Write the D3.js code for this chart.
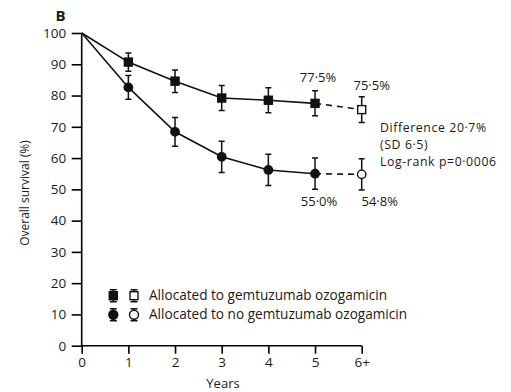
<!DOCTYPE html>
<html>
<head>
<meta charset="utf-8">
<script src="https://cdn.jsdelivr.net/npm/d3@7"></script>
<style>
  html, body { margin: 0; padding: 0; background: #fff; }
  svg { display: block; font-family: "Open Sans", "DejaVu Sans", sans-serif; }
</style>
</head>
<body>
<svg id="chart" width="511" height="392"></svg>
<script>
// Overall survival by allocation, with ±SD bars at each year
const years = ["0", "1", "2", "3", "4", "5", "6+"];
const gemSurvival = [100, 90.7, 84.6, 79.2, 78.5, 77.5, 75.5];
const gemErr = [0, 2.9, 3.6, 4.0, 4.0, 4.0, 4.1];
const noGemSurvival = [100, 82.6, 68.4, 60.4, 56.2, 55.0, 54.8];
const noGemErr = [0, 3.8, 4.6, 5.0, 5.0, 5.0, 5.0];
const yTicks = [0, 10, 20, 30, 40, 50, 60, 70, 80, 90, 100];
const legendLabels = ["Allocated to gemtuzumab ozogamicin", "Allocated to no gemtuzumab ozogamicin"];
const noteLines = ["Difference 20·7%", "(SD 6·5)", "Log-rank p=0·0006"];

const FONT = "\"Open Sans\", sans-serif";
const INK = "#1a1a1a";
const svg = d3.select("#chart");
const x = d3.scalePoint().domain(years).range([81.7, 361.7]);
const y = d3.scaleLinear().domain([0, 100]).range([345.7, 33]);
const fmt = v => d3.format(".1f")(v).replace(".", "·") + "%";

// Axes
const yAxis = svg.append("g").attr("transform", "translate(81.7,0)")
  .call(d3.axisLeft(y).tickValues(yTicks).tickSize(10).tickPadding(5.5));
const xAxis = svg.append("g").attr("transform", "translate(0,345.7)")
  .call(d3.axisBottom(x).tickSize(8).tickPadding(4));
[yAxis, xAxis].forEach(a => {
  a.select(".domain").attr("stroke", "#000").attr("stroke-width", 1.6);
  a.selectAll(".tick line").attr("stroke", "#000").attr("stroke-width", 1.6);
  a.selectAll(".tick text").attr("fill", INK).attr("font-size", 13.5).attr("font-family", FONT);
});
yAxis.select(".domain").attr("d", `M0,${y(100)}V${y(0)}`);
xAxis.select(".domain").attr("d", `M${x("0")},0H${x("6+")}`);

// Axis titles
svg.append("text").attr("x", 223).attr("y", 387.5).attr("text-anchor", "middle")
  .attr("font-size", 13).attr("fill", INK).text("Years");
svg.append("text").attr("transform", "translate(29,193) rotate(-90)").attr("text-anchor", "middle")
  .attr("font-size", 12).attr("fill", INK).text("Overall survival (%)");
svg.append("text").attr("x", 55.5).attr("y", 21).attr("font-size", 15).attr("font-weight", "bold")
  .attr("fill", INK).text("B");

// Series lines: solid through year 5, dashed to 6+
function drawSeries(vals, errs, shape) {
  const pts = years.map((yr, i) => ({ yr, v: vals[i], e: errs[i], i }));
  const line = d3.line().x(d => x(d.yr)).y(d => y(d.v));
  svg.append("path").datum(pts.slice(0, 6)).attr("d", line)
    .attr("fill", "none").attr("stroke", "#111").attr("stroke-width", 1.6);
  svg.append("path").datum(pts.slice(5)).attr("d", line)
    .attr("fill", "none").attr("stroke", "#111").attr("stroke-width", 1.6)
    .attr("stroke-dasharray", "6,5");
  const g = svg.append("g");
  pts.filter(d => d.e > 0).forEach(d => {
    const cx = x(d.yr), top = y(d.v + d.e), bot = y(d.v - d.e);
    g.append("path").attr("d", `M${cx},${top}V${bot}M${cx - 3},${top}H${cx + 3}M${cx - 3},${bot}H${cx + 3}`)
      .attr("stroke", "#111").attr("stroke-width", 1.5).attr("fill", "none");
    const open = d.yr === "6+";
    if (shape === "square") {
      g.append("rect").attr("x", cx - 4).attr("y", y(d.v) - 4).attr("width", 8).attr("height", 8)
        .attr("fill", open ? "#fff" : "#111").attr("stroke", "#111").attr("stroke-width", 1.4);
    } else {
      g.append("circle").attr("cx", cx).attr("cy", y(d.v)).attr("r", 4.2)
        .attr("fill", open ? "#fff" : "#111").attr("stroke", "#111").attr("stroke-width", 1.4);
    }
  });
}
drawSeries(gemSurvival, gemErr, "square");
drawSeries(noGemSurvival, noGemErr, "circle");

// Value labels at years 5 and 6+
const lbl = (px, py, t) => svg.append("text").attr("x", px).attr("y", py).attr("text-anchor", "middle")
  .attr("font-size", 13).attr("fill", INK).text(t);
lbl(x("5") + 3, 82, fmt(gemSurvival[5]));
lbl(x("6+") + 10, 89.5, fmt(gemSurvival[6]));
lbl(x("5") + 4, 205.5, fmt(noGemSurvival[5]));
lbl(x("6+") + 18, 205.5, fmt(noGemSurvival[6]));

// Difference note, three lines
noteLines.forEach((t, i) => svg.append("text").attr("x", 380).attr("y", 132 + i * 17)
  .attr("font-size", 12.3).attr("letter-spacing", 0.6).attr("fill", INK).text(t));

// Legend
const legend = svg.append("g");
legendLabels.forEach((t, i) => {
  const ly = 295.7 + i * 19;
  [113.3, 134].forEach((lx, j) => {
    legend.append("path").attr("d", `M${lx},${ly - 6}V${ly + 6}M${lx - 3.5},${ly - 6}H${lx + 3.5}M${lx - 3.5},${ly + 6}H${lx + 3.5}`)
      .attr("stroke", "#111").attr("stroke-width", 1.5);
    if (i === 0) {
      legend.append("rect").attr("x", lx - 4).attr("y", ly - 4).attr("width", 8).attr("height", 8)
        .attr("fill", j ? "#fff" : "#111").attr("stroke", "#111").attr("stroke-width", 1.4);
    } else {
      legend.append("circle").attr("cx", lx).attr("cy", ly).attr("r", 4.5)
        .attr("fill", j ? "#fff" : "#111").attr("stroke", "#111").attr("stroke-width", 1.4);
    }
  });
  legend.append("text").attr("x", 149).attr("y", ly + 4.7).attr("font-size", 13.6)
    .attr("fill", INK).text(t);
});
</script>
</body>
</html>
